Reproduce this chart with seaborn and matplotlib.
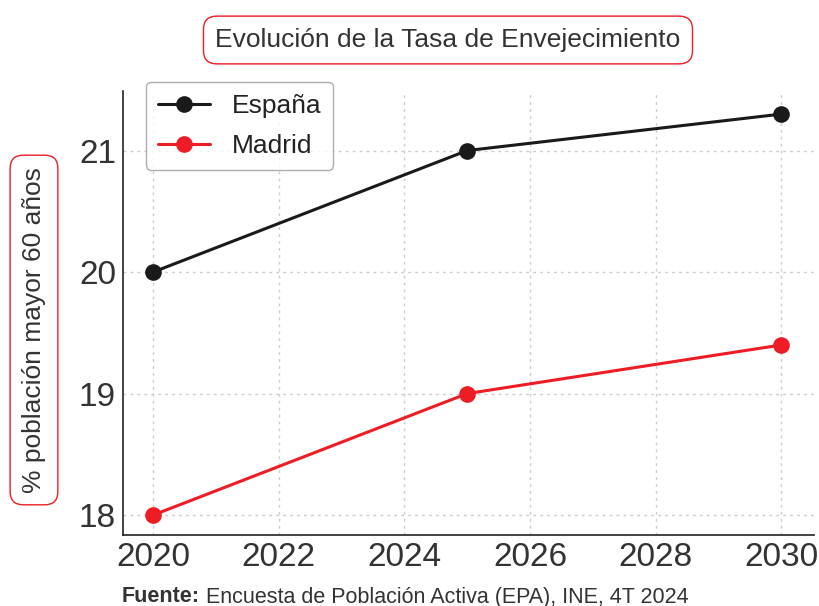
import matplotlib
matplotlib.use("Agg")
import matplotlib.pyplot as plt
import pandas as pd
import seaborn as sns

# datos
years = [2020, 2025, 2030]
espana = [20.0, 21.0, 21.3]
madrid = [18.0, 19.0, 19.4]
series_names = ["España", "Madrid"]
x_ticks = [2020, 2022, 2024, 2026, 2028, 2030]
y_ticks = [18, 19, 20, 21]

title = "Evolución de la Tasa de Envejecimiento"
ylabel = "% población mayor 60 años"
source_bold = "Fuente:"
source_rest = " Encuesta de Población Activa (EPA), INE, 4T 2024"

df = pd.DataFrame({
    "Año": years * 2,
    "Tasa": espana + madrid,
    "Zona": [series_names[0]] * len(years) + [series_names[1]] * len(years),
})

sns.set_style("white")
plt.rcParams["font.family"] = ["Liberation Sans", "DejaVu Sans"]
TXT = "#333333"
RED = "#ee1c25"
palette = {"España": "#1a1a1a", "Madrid": RED}

fig = plt.figure(figsize=(8.19, 6.06), dpi=100)
ax = fig.add_axes([123 / 819, 1 - 535 / 606, (814 - 123) / 819, (535 - 91) / 606])

sns.lineplot(data=df, x="Año", y="Tasa", hue="Zona", palette=palette,
             marker="o", markersize=12, markeredgewidth=0, linewidth=2.2,
             ax=ax, legend=True)

ax.set_xlim(2019.52, 2030.52)
ax.set_ylim(17.836, 21.49)
ax.set_xticks(x_ticks)
ax.set_yticks(y_ticks)
ax.tick_params(direction="in", length=7, width=1.2, color="#333333",
               labelsize=24, labelcolor=TXT, pad=5)
ax.grid(True, linestyle=(0, (2, 3)), color="#cccccc", linewidth=1)
for s in ["top", "right"]:
    ax.spines[s].set_visible(False)
for s in ["left", "bottom"]:
    ax.spines[s].set_color("#222222")
    ax.spines[s].set_linewidth(1.2)
ax.set_xlabel("")
ax.set_ylabel("")

leg = ax.legend(loc="upper left", bbox_to_anchor=(0.033, 1.02), fontsize=19,
                frameon=True, fancybox=True, edgecolor="#999999",
                borderaxespad=0, handlelength=2.0, borderpad=0.45,
                labelspacing=0.6, handletextpad=0.8)
leg.set_title(None)
for t in leg.get_texts():
    t.set_color("#222222")

box = dict(boxstyle="round,pad=0.45,rounding_size=0.5", facecolor="white",
           edgecolor=RED, linewidth=1)
fig.text(448 / 819, 1 - 40 / 606, title, ha="center", va="center",
         fontsize=19, color=TXT, bbox=box)
fig.text(34 / 819, 1 - 330 / 606, ylabel, ha="center", va="center",
         rotation=90, fontsize=19, color=TXT, bbox=box)

t1 = fig.text(122 / 819, 1 - 597 / 606, source_bold, ha="left", va="center",
              fontsize=15.5, fontweight="bold", color=TXT)
fig.canvas.draw()
bb = t1.get_window_extent()
fig.text(bb.x1 / fig.bbox.width, 1 - 597 / 606, source_rest, ha="left",
         va="center", fontsize=15.5, color=TXT)

fig.savefig("out.png", dpi=100)
